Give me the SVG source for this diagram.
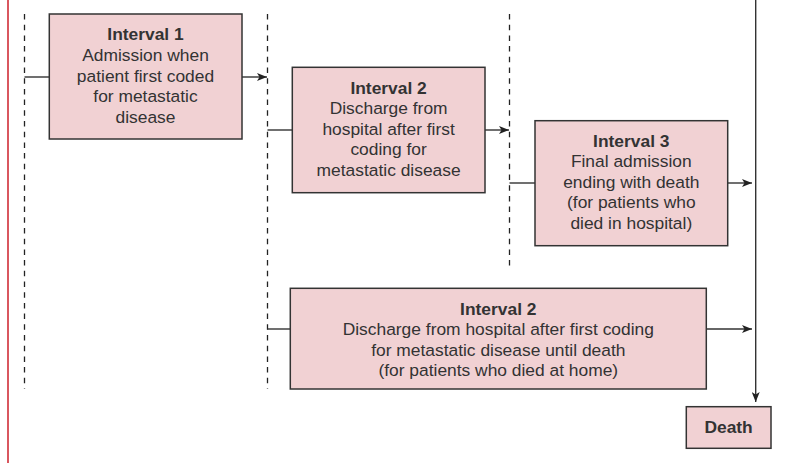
<svg xmlns="http://www.w3.org/2000/svg" width="797" height="463" viewBox="0 0 797 463">
<style>
.box{fill:#f1d1d3;stroke:#333;stroke-width:1.5}
.t{font-family:"Liberation Sans",Arial,sans-serif;font-size:17.4px;fill:#333;text-anchor:middle}
.b{font-weight:bold}
.dash{stroke:#222;stroke-width:1.3;stroke-dasharray:5.5 5.2;fill:none}
.ln{stroke:#333;stroke-width:1.4;fill:none}
.arr{stroke:#333;stroke-width:1.4;fill:none;marker-end:url(#ah)}
</style>
<defs>
<marker id="ah" viewBox="0 0 10 8" refX="10" refY="4" markerWidth="10" markerHeight="8" markerUnits="userSpaceOnUse" orient="auto">
<path d="M0,0 L10,4 L0,8 L2.5,4 Z" fill="#222"/>
</marker>
</defs>
<rect width="797" height="463" fill="#fff"/>
<line x1="8" y1="0" x2="8" y2="463" stroke="#d9575f" stroke-width="2"/>
<g id="connectors">
<line class="dash" x1="24.5" y1="14" x2="24.5" y2="389"/>
<line class="dash" x1="267.5" y1="14" x2="267.5" y2="389"/>
<line class="dash" x1="509.5" y1="14" x2="509.5" y2="266"/>
<line class="ln" x1="24.5" y1="77" x2="49" y2="77"/>
<line class="arr" x1="242" y1="77" x2="267" y2="77"/>
<line class="ln" x1="267.5" y1="130" x2="292" y2="130"/>
<line class="arr" x1="485" y1="130" x2="509" y2="130"/>
<line class="ln" x1="509.5" y1="183" x2="535" y2="183"/>
<line class="arr" x1="728" y1="183" x2="752" y2="183"/>
<line class="ln" x1="267.5" y1="329" x2="290" y2="329"/>
<line class="arr" x1="706" y1="329" x2="752" y2="329"/>
<line class="arr" x1="755.7" y1="0" x2="755.7" y2="402"/>
</g>
<g id="interval1">
<rect class="box" x="49.3" y="14" width="192.7" height="125"/>
<text class="t"><tspan class="b" x="145.5" y="40">Interval 1</tspan><tspan x="145.5" y="61">Admission when</tspan><tspan x="145.5" y="81.5">patient first coded</tspan><tspan x="145.5" y="102">for metastatic</tspan><tspan x="145.5" y="122.5">disease</tspan></text>
</g>
<g id="interval2a">
<rect class="box" x="292.3" y="67.3" width="192.7" height="125.4"/>
<text class="t"><tspan class="b" x="388.6" y="93.5">Interval 2</tspan><tspan x="388.6" y="114">Discharge from</tspan><tspan x="388.6" y="134.5">hospital after first</tspan><tspan x="388.6" y="155">coding for</tspan><tspan x="388.6" y="175.5">metastatic disease</tspan></text>
</g>
<g id="interval3">
<rect class="box" x="535" y="120.7" width="192.7" height="125"/>
<text class="t"><tspan class="b" x="631.3" y="146.5">Interval 3</tspan><tspan x="631.3" y="167">Final admission</tspan><tspan x="631.3" y="187.5">ending with death</tspan><tspan x="631.3" y="208">(for patients who</tspan><tspan x="631.3" y="228.5">died in hospital)</tspan></text>
</g>
<g id="interval2b">
<rect class="box" x="290.3" y="288.3" width="416" height="100.7"/>
<text class="t"><tspan class="b" x="498.3" y="314.5">Interval 2</tspan><tspan x="498.3" y="335">Discharge from hospital after first coding</tspan><tspan x="498.3" y="355.5">for metastatic disease until death</tspan><tspan x="498.3" y="376">(for patients who died at home)</tspan></text>
</g>
<g id="death">
<rect class="box" x="686.3" y="406.7" width="84.7" height="41.6"/>
<text class="t b" x="728.6" y="433">Death</text>
</g>
</svg>
